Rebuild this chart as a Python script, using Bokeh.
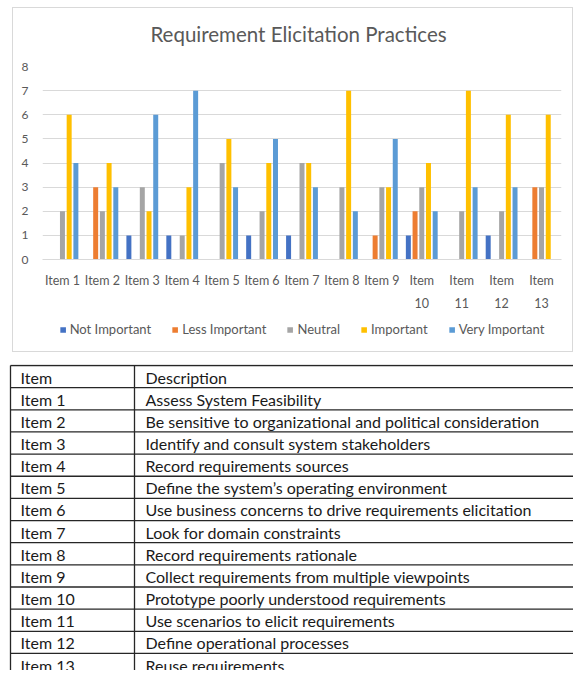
from bokeh.plotting import figure
from bokeh.models import (ColumnDataSource, Legend, LegendItem, FactorRange, Range1d,
                          FixedTicker, Spacer)
from bokeh.transform import dodge
from bokeh.layouts import column, row
from bokeh.embed import file_html
from bokeh.resources import INLINE
from bokeh.core.properties import value

# ---------------- data ----------------
items = ["Item 1", "Item 2", "Item 3", "Item 4", "Item 5", "Item 6", "Item 7",
         "Item 8", "Item 9", "Item 10", "Item 11", "Item 12", "Item 13"]
not_important = [0, 0, 1, 1, 0, 1, 1, 0, 0, 1, 0, 1, 0]
less_important = [0, 3, 0, 0, 0, 0, 0, 0, 1, 2, 0, 0, 3]
neutral = [2, 2, 3, 1, 4, 2, 4, 3, 3, 3, 2, 2, 3]
important = [6, 4, 2, 3, 5, 4, 4, 7, 3, 4, 7, 6, 6]
very_important = [4, 3, 6, 7, 3, 5, 3, 2, 5, 2, 3, 3, 0]
series_names = ["Not Important", "Less Important", "Neutral", "Important", "Very Important"]
series_keys = ["ni", "li", "ne", "im", "vi"]
colors = ["#4472C4", "#ED7D31", "#A5A5A5", "#FFC000", "#5B9BD5"]
y_ticks = [0, 1, 2, 3, 4, 5, 6, 7, 8]
title_text = "Requirement Elicitation Practices"

table_header = ["Item", "Description"]
table_items = items
descriptions = [
    "Assess System Feasibility",
    "Be sensitive to organizational and political consideration",
    "Identify and consult system stakeholders",
    "Record requirements sources",
    "Define the system\u2019s operating environment",
    "Use business concerns to drive requirements elicitation",
    "Look for domain constraints",
    "Record requirements rationale",
    "Collect requirements from multiple viewpoints",
    "Prototype poorly understood requirements",
    "Use scenarios to elicit requirements",
    "Define operational processes",
    "Reuse requirements",
]

FONT = "Lato"
GRAY_TXT = "#595959"

# category labels: long ones wrap onto two lines ("Item" / "10")
def wrap_factor(label, k):
    word, num = label.split(" ")
    return (num, word) if k >= 9 else ("", label)

factors = [wrap_factor(it, k) for k, it in enumerate(items)]

CW = 559

# ---------------- title strip ----------------
TH = 48
ts = figure(width=CW, height=TH, x_range=Range1d(0, CW), y_range=Range1d(TH, 0),
            min_border=0, toolbar_location=None, output_backend="svg", frame_align=False)
ts.axis.visible = False
ts.grid.grid_line_color = None
ts.outline_line_color = None
ts.text(x=[285], y=[25], text=[title_text], text_font=value(FONT),
        text_font_size="20.5px", text_align="center", text_baseline="middle",
        text_color=GRAY_TXT)

# ---------------- chart ----------------
src = ColumnDataSource(dict(item=factors, ni=not_important, li=less_important,
                            ne=neutral, im=important, vi=very_important))

CH = 263
xr = FactorRange(*factors, group_padding=0, factor_padding=0)
p = figure(x_range=xr, y_range=Range1d(0, 8),
           width=CW, height=CH, output_backend="svg", toolbar_location=None,
           min_border_left=29, min_border_right=11, min_border_top=10,
           min_border_bottom=60, frame_align=False)

bar_w = 0.125
pitch = 0.168
renderers = []
for j, key in enumerate(series_keys):
    r = p.vbar(x=dodge("item", (j - 2) * pitch, range=xr), top=key,
               width=bar_w, fill_color=colors[j], line_color=None, source=src)
    renderers.append(r)

p.outline_line_color = None
p.xgrid.grid_line_color = None
p.ygrid.grid_line_color = "#d9d9d9"
p.ygrid.ticker = FixedTicker(ticks=y_ticks)

p.yaxis.ticker = FixedTicker(ticks=y_ticks)
p.yaxis.axis_line_color = None
p.yaxis.major_tick_line_color = None
p.yaxis.minor_tick_line_color = None
p.yaxis.major_label_standoff = 8
p.yaxis.major_label_text_font = FONT
p.yaxis.major_label_text_font_size = "12px"
p.yaxis.major_label_text_color = GRAY_TXT

xa = p.xaxis[0]
xa.axis_line_color = "#d9d9d9"
xa.major_tick_line_color = None
xa.minor_tick_line_color = None
xa.major_label_standoff = 7
xa.major_label_text_font = FONT
xa.major_label_text_font_size = "12.5px"
xa.major_label_text_color = GRAY_TXT
xa.group_text_font = FONT
xa.group_text_font_size = "12.5px"
xa.group_text_font_style = "normal"
xa.group_text_color = GRAY_TXT
xa.separator_line_color = None

# ---------------- legend strip (zero-height bars, only their legend swatches show) ----------------
lg = figure(width=CW, height=32, x_range=xr, y_range=Range1d(0, 8),
            min_border=0, min_border_left=18, toolbar_location=None,
            output_backend="svg", frame_align=False)
lg.axis.visible = False
lg.grid.grid_line_color = None
lg.outline_line_color = None
lg_renderers = []
for j, key in enumerate(series_keys):
    r = lg.vbar(x="item", top=key, bottom=key, width=bar_w, fill_color=colors[j],
                line_color=None, source=src)
    lg_renderers.append(r)
legend = Legend(items=[LegendItem(label=n, renderers=[r]) for n, r in zip(series_names, lg_renderers)],
                orientation="horizontal", location="top_center",
                glyph_width=7, glyph_height=7, label_standoff=4, spacing=20,
                label_text_font=FONT, label_text_font_size="13px",
                label_text_color=GRAY_TXT, border_line_color=None,
                background_fill_color="white", background_fill_alpha=1,
                padding=0, margin=2)
lg.add_layout(legend, "center")

chart_box = column(ts, p, lg, styles={"border": "1px solid #d9d9d9"})

# ---------------- table ----------------
row_h = 22.15
n_rows = len(table_items) + 1
t_h = 306
t = figure(width=573, height=t_h, x_range=Range1d(0, 573), y_range=Range1d(t_h, 0),
           min_border=0, toolbar_location=None, output_backend="svg", frame_align=False)
t.axis.visible = False
t.grid.grid_line_color = None
t.outline_line_color = None

y0 = 1
hy = [y0 + k * row_h for k in range(n_rows + 1)]
t.segment(x0=[10] * len(hy), x1=[573] * len(hy), y0=hy, y1=hy,
          line_color="#262626", line_width=1.3)
t.segment(x0=[10, 134], x1=[10, 134], y0=[y0, y0], y1=[t_h, t_h],
          line_color="#262626", line_width=1.3)

col1 = [table_header[0]] + table_items
col2 = [table_header[1]] + descriptions
ty = [y0 + k * row_h + row_h / 2 + 0.5 for k in range(n_rows)]
t.text(x=[20] * n_rows, y=ty, text=col1, text_font=value(FONT),
       text_font_size="16px", text_baseline="middle", text_color="#1a1a1a")
t.text(x=[145] * n_rows, y=ty, text=col2, text_font=value(FONT),
       text_font_size="16px", text_baseline="middle", text_color="#1a1a1a")

layout = column(Spacer(height=7), row(Spacer(width=12), chart_box), Spacer(height=12), t)
open("out.html", "w").write(file_html(layout, INLINE))
